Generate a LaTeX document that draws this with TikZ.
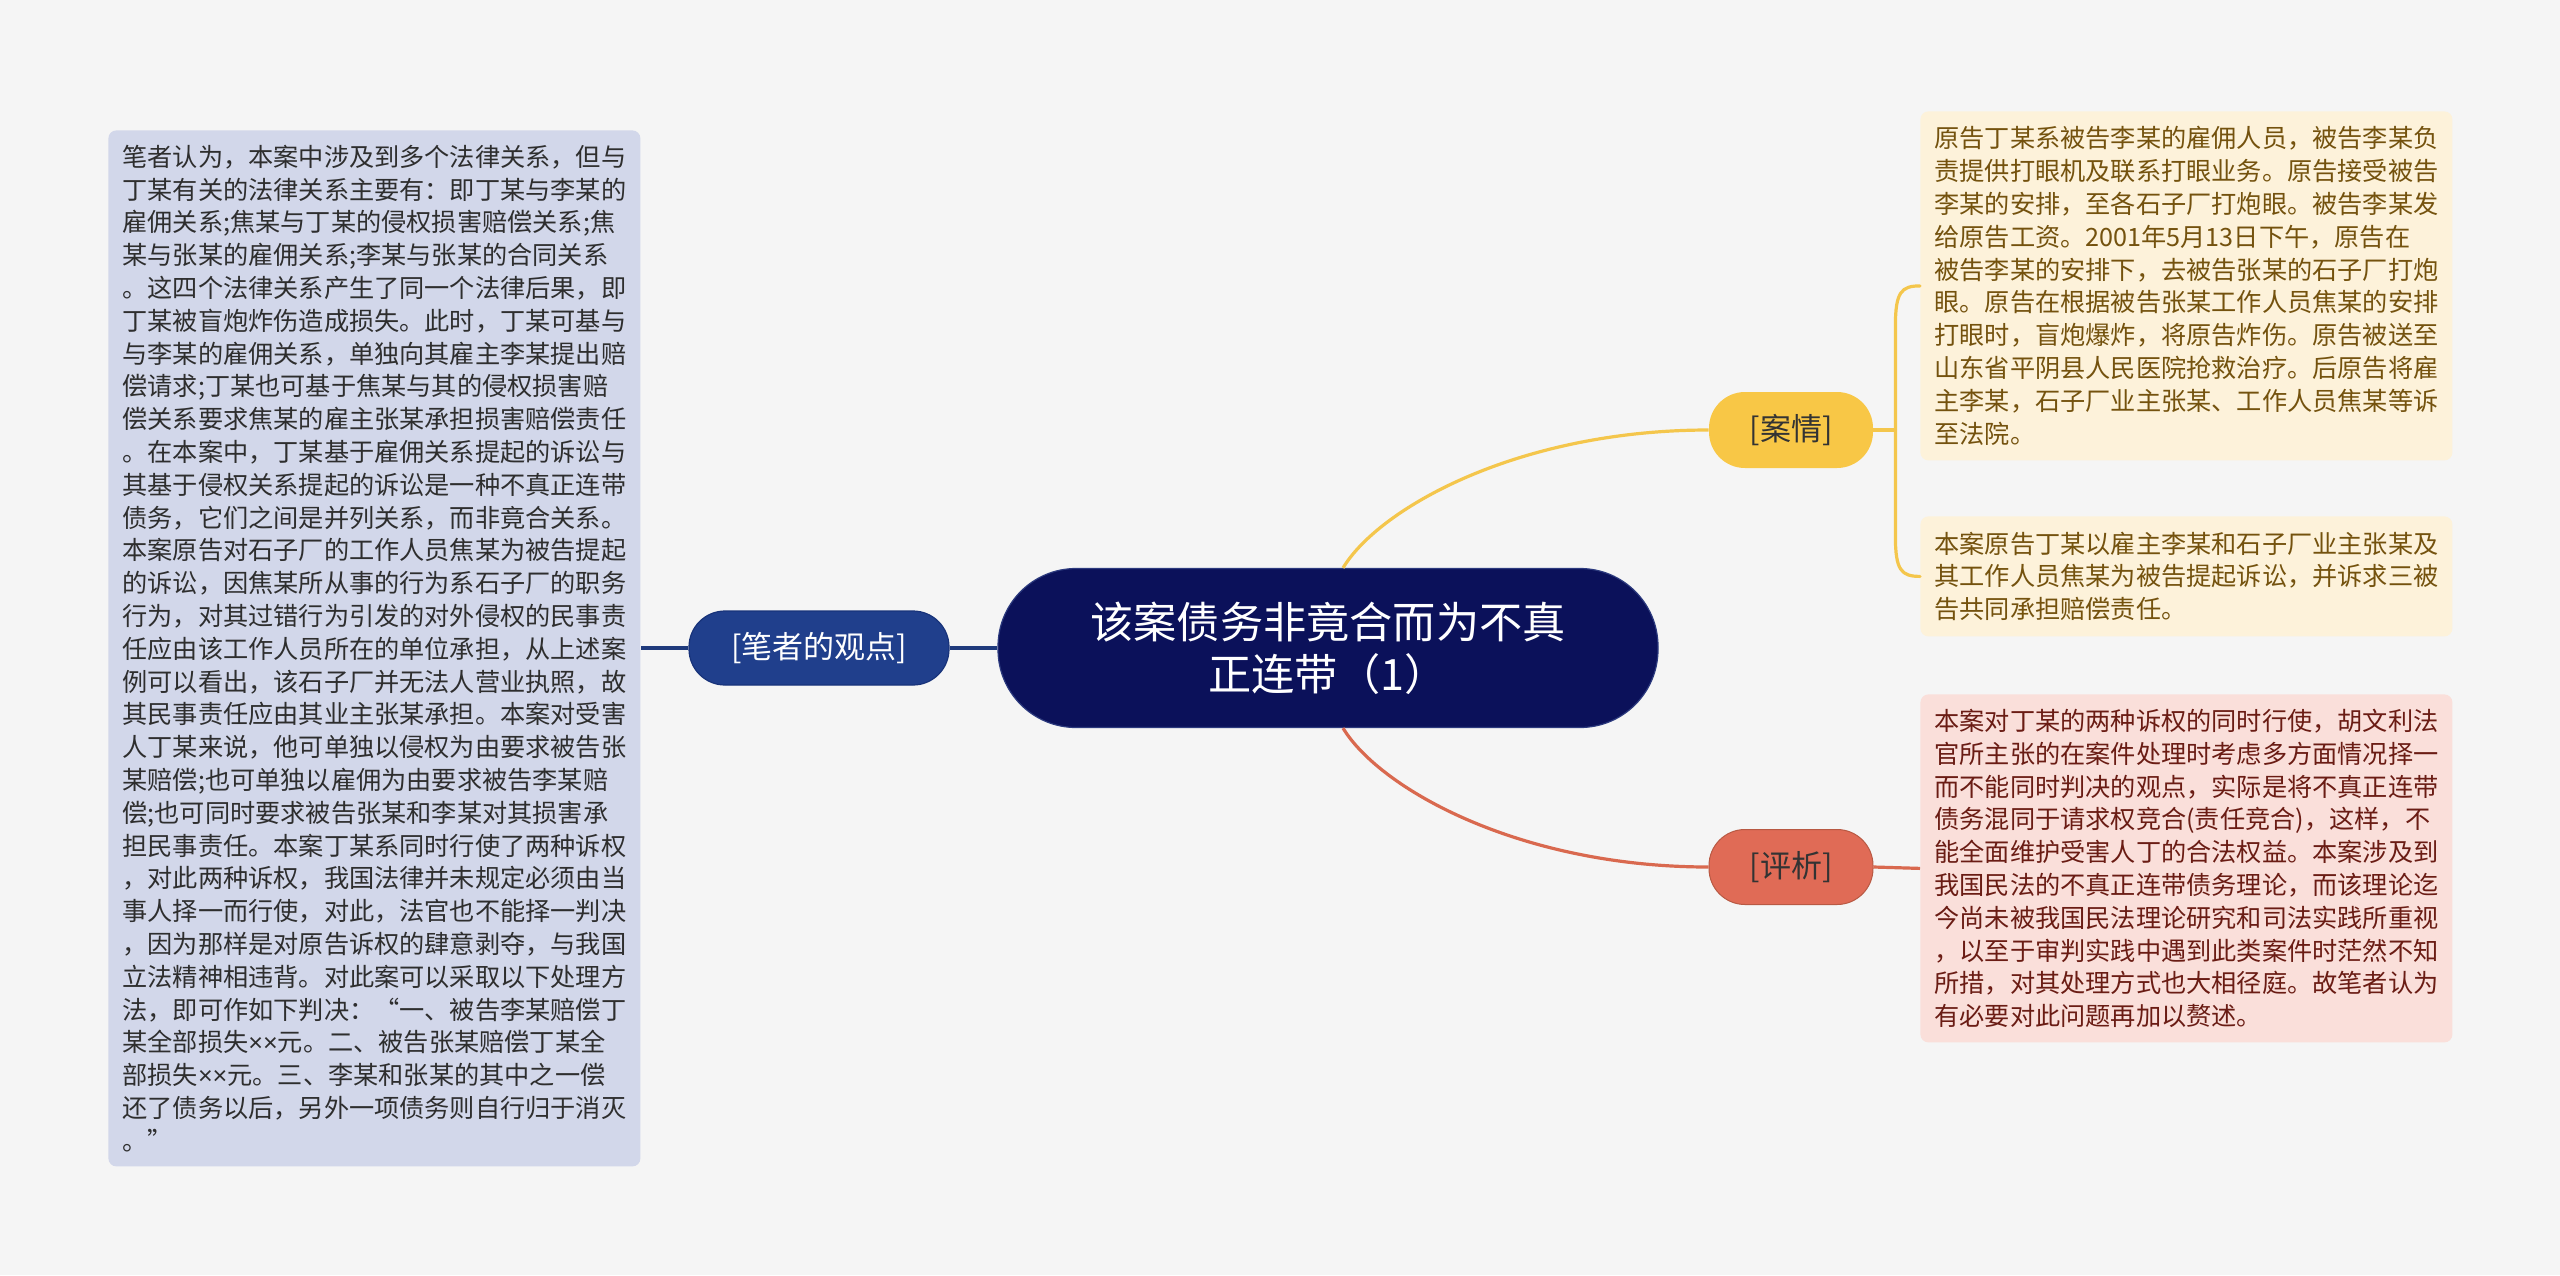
\documentclass[tikz,border=0pt]{standalone}
\usepackage{fontspec}
\setmainfont{Noto Sans CJK SC}
\newfontfamily\latinfont{Liberation Sans}
\newcommand{\tms}{{\latinfont ×}}
\usetikzlibrary{calc}
\definecolor{bg}{HTML}{F5F5F5}
\definecolor{leftfill}{HTML}{D2D7EA}
\definecolor{lefttext}{HTML}{2E2E2E}
\definecolor{casefill}{HTML}{FDF2DA}
\definecolor{casetext}{HTML}{74520E}
\definecolor{evalfill}{HTML}{FADFDA}
\definecolor{evaltext}{HTML}{6A1C14}
\definecolor{rootfill}{HTML}{0B115A}
\definecolor{rootedge}{HTML}{2C3A7E}
\definecolor{viewfill}{HTML}{203F8C}
\definecolor{viewedge}{HTML}{18337A}
\definecolor{casenode}{HTML}{F8C746}
\definecolor{evalnode}{HTML}{E06B56}
\definecolor{navyline}{HTML}{1F3A7C}
\definecolor{yline}{HTML}{F4C64C}
\definecolor{rline}{HTML}{D9694F}
\begin{document}
\begin{tikzpicture}[x=0.5pt,y=-0.5pt,
  txtbox/.style={anchor=north west, rounded corners=4pt, inner xsep=7pt, inner ysep=0pt,
    align=left, text width=252pt, font=\fontsize{12.6}{16.4}\selectfont},
  pill/.style={rounded corners=18pt, inner sep=0pt, align=center},
  navyconn/.style={draw=navyline, line width=1.6pt},
  yconn/.style={draw=yline, line width=1.6pt},
  rconn/.style={draw=rline, line width=1.6pt}]
\fill[bg] (0,0) rectangle (2560,1275);
\useasboundingbox (0,0) rectangle (2560,1275);

% root
\node[fill=rootfill, draw=rootedge, line width=0.6pt, rounded corners=39pt, minimum width=330pt, minimum height=79.5pt,
  text=white, align=center, inner sep=0pt, font=\fontsize{21.6}{26}\selectfont] (root) at (1328,648)
  {该案债务非竟合而为不真\\正连带（1）};

% level 1
\node[pill, fill=viewfill, draw=viewedge, line width=0.6pt, minimum width=130pt, minimum height=37pt,
  text=white, font=\fontsize{15.5}{18}\selectfont] (view) at (819,648) {[笔者的观点]};
\node[pill, fill=casenode, minimum width=82pt, minimum height=38pt,
  text=black!80, font=\fontsize{15.5}{18}\selectfont] (anq) at (1791,430) {[案情]};
\node[pill, fill=evalnode, draw=rline!85!black, line width=0.5pt, minimum width=82pt, minimum height=37.5pt,
  text=black!80, font=\fontsize{15.5}{18}\selectfont] (pxi) at (1791,867) {[评析]};

% left box
\node[txtbox, fill=leftfill, text=lefttext, minimum width=266pt, minimum height=518pt] (lbox) at (108,130) {%
笔者认为，本案中涉及到多个法律关系，但与\\
丁某有关的法律关系主要有：即丁某与李某的\\
雇佣关系;焦某与丁某的侵权损害赔偿关系;焦\\
某与张某的雇佣关系;李某与张某的合同关系\\
。这四个法律关系产生了同一个法律后果，即\\
丁某被盲炮炸伤造成损失。此时，丁某可基与\\
与李某的雇佣关系，单独向其雇主李某提出赔\\
偿请求;丁某也可基于焦某与其的侵权损害赔\\
偿关系要求焦某的雇主张某承担损害赔偿责任\\
。在本案中，丁某基于雇佣关系提起的诉讼与\\
其基于侵权关系提起的诉讼是一种不真正连带\\
债务，它们之间是并列关系，而非竟合关系。\\
本案原告对石子厂的工作人员焦某为被告提起\\
的诉讼，因焦某所从事的行为系石子厂的职务\\
行为，对其过错行为引发的对外侵权的民事责\\
任应由该工作人员所在的单位承担，从上述案\\
例可以看出，该石子厂并无法人营业执照，故\\
其民事责任应由其业主张某承担。本案对受害\\
人丁某来说，他可单独以侵权为由要求被告张\\
某赔偿;也可单独以雇佣为由要求被告李某赔\\
偿;也可同时要求被告张某和李某对其损害承\\
担民事责任。本案丁某系同时行使了两种诉权\\
，对此两种诉权，我国法律并未规定必须由当\\
事人择一而行使，对此，法官也不能择一判决\\
，因为那样是对原告诉权的肆意剥夺，与我国\\
立法精神相违背。对此案可以采取以下处理方\\
法，即可作如下判决：“一、被告李某赔偿丁\\
某全部损失\tms\tms 元。二、被告张某赔偿丁某全\\
部损失\tms\tms 元。三、李某和张某的其中之一偿\\
还了债务以后，另外一项债务则自行归于消灭\\
。”};

% right boxes
\node[txtbox, fill=casefill, text=casetext, minimum width=265pt, minimum height=174.5pt] (case1) at (1920,111) {%
原告丁某系被告李某的雇佣人员，被告李某负\\
责提供打眼机及联系打眼业务。原告接受被告\\
李某的安排，至各石子厂打炮眼。被告李某发\\
给原告工资。2001年5月13日下午，原告在\\
被告李某的安排下，去被告张某的石子厂打炮\\
眼。原告在根据被告张某工作人员焦某的安排\\
打眼时，盲炮爆炸，将原告炸伤。原告被送至\\
山东省平阴县人民医院抢救治疗。后原告将雇\\
主李某，石子厂业主张某、工作人员焦某等诉\\
至法院。};
\node[txtbox, fill=casefill, text=casetext, minimum width=265pt, minimum height=60pt] (case2) at (1920,516) {%
本案原告丁某以雇主李某和石子厂业主张某及\\
其工作人员焦某为被告提起诉讼，并诉求三被\\
告共同承担赔偿责任。};
\node[txtbox, fill=evalfill, text=evaltext, minimum width=265pt, minimum height=174pt] (eval1) at (1920,694) {%
本案对丁某的两种诉权的同时行使，胡文利法\\
官所主张的在案件处理时考虑多方面情况择一\\
而不能同时判决的观点，实际是将不真正连带\\
债务混同于请求权竞合(责任竞合)，这样，不\\
能全面维护受害人丁的合法权益。本案涉及到\\
我国民法的不真正连带债务理论，而该理论迄\\
今尚未被我国民法理论研究和司法实践所重视\\
，以至于审判实践中遇到此类案件时茫然不知\\
所措，对其处理方式也大相径庭。故笔者认为\\
有必要对此问题再加以赘述。};

% connectors
\draw[navyconn] (root.west) -- (view.east);
\draw[navyconn] (view.west) -- (view.west -| lbox.east);

\coordinate (rtop) at ($(root.north)+(15,0)$);
\coordinate (rbot) at ($(root.south)+(15,0)$);
\draw[yconn] (rtop) .. controls (1380,507) and (1520,430) .. (anq.west);
\draw[rconn] (rbot) .. controls (1380,789) and (1520,867) .. (pxi.west);

\coordinate (aqj) at ($(anq.east)+(22,0)$);
\draw[yconn] (anq.east) -- (aqj);
\draw[yconn, line cap=round] (aqj) -- ($(aqj |- case1.west)+(0,40)$)
  .. controls ($(aqj |- case1.west)+(0,6)$) and ($(aqj |- case1.west)+(6,0)$) .. (case1.west);
\draw[yconn, line cap=round] (aqj) -- ($(aqj |- case2.west)+(0,-40)$)
  .. controls ($(aqj |- case2.west)+(0,-6)$) and ($(aqj |- case2.west)+(6,0)$) .. (case2.west);
\draw[rconn] (pxi.east) -- (eval1.west);
\end{tikzpicture}
\end{document}
